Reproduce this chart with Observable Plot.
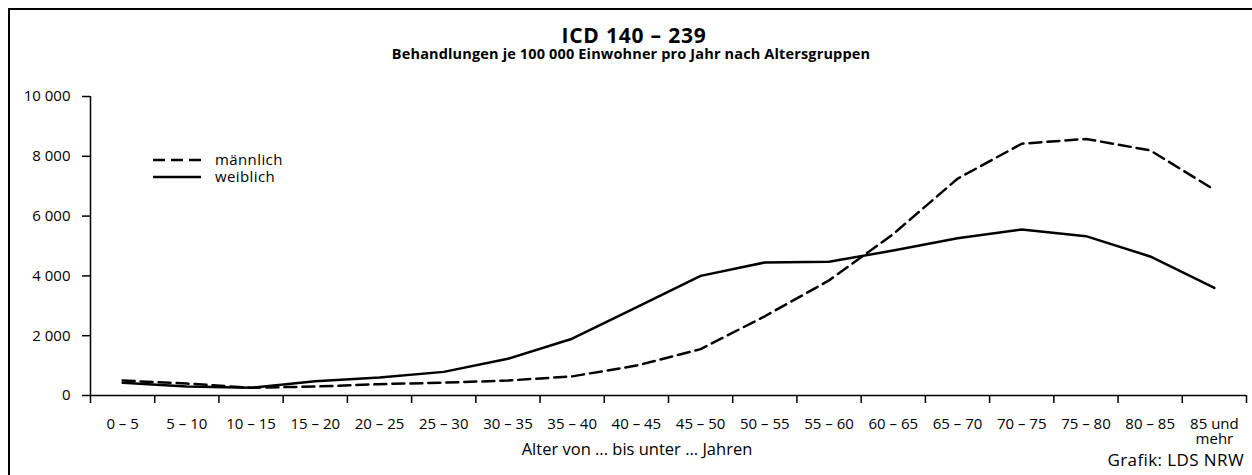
<!DOCTYPE html>
<html><head><meta charset="utf-8">
<script src="https://cdn.jsdelivr.net/npm/d3@7"></script>
<script src="https://cdn.jsdelivr.net/npm/@observablehq/plot@0.6"></script>
<style>
body{margin:0;background:#fff;font-family:"Open Sans",sans-serif;}
#wrap{position:relative;width:1252px;height:475px;overflow:hidden;background:#fff;}
#frame{position:absolute;left:8px;top:8px;width:1300px;height:500px;border-left:2px solid #000;border-top:2px solid #000;}
#chart{position:absolute;left:0;top:0;}
#overlay{position:absolute;left:0;top:0;}
</style></head><body>
<div id="wrap"><div id="frame"></div><div id="chart"></div>
<svg id="overlay" width="1252" height="475" font-family="Open Sans" fill="#000">
  <text x="634" y="43" text-anchor="middle" font-size="21" font-weight="bold" letter-spacing="0.8">ICD 140 – 239</text>
  <text x="631" y="59" text-anchor="middle" font-size="14.5" font-weight="bold" letter-spacing="0.15">Behandlungen je 100 000 Einwohner pro Jahr nach Altersgruppen</text>
  <line x1="153" x2="201" y1="160" y2="160" stroke="#000" stroke-width="2.5" stroke-dasharray="12,6"/>
  <line x1="153" x2="201" y1="177" y2="177" stroke="#000" stroke-width="2.5"/>
  <text x="215" y="165" font-size="15" letter-spacing="0.4">männlich</text>
  <text x="215" y="182" font-size="15" letter-spacing="0.4">weiblich</text>
  <text x="637" y="455" text-anchor="middle" font-size="16.5">Alter von ... bis unter ... Jahren</text>
  <text x="1244" y="466" text-anchor="end" font-size="17" letter-spacing="0.4">Grafik: LDS NRW</text>
</svg>
</div>
<script>
const ageGroups = ["0 – 5","5 – 10","10 – 15","15 – 20","20 – 25","25 – 30","30 – 35","35 – 40","40 – 45","45 – 50","50 – 55","55 – 60","60 – 65","65 – 70","70 – 75","75 – 80","80 – 85","85 und\nmehr"];
const maennlich = [500, 400, 260, 300, 380, 430, 500, 640, 1000, 1550, 2650, 3850, 5400, 7250, 8420, 8580, 8200, 6880];
const weiblich = [430, 300, 260, 480, 600, 790, 1230, 1900, 2950, 4000, 4450, 4470, 4850, 5260, 5550, 5330, 4650, 3600];
const yTicks = [0, 2000, 4000, 6000, 8000, 10000];

const male = ageGroups.map((g, i) => ({pos: i + 0.5, v: maennlich[i]}));
const female = ageGroups.map((g, i) => ({pos: i + 0.5, v: weiblich[i]}));

const chart = Plot.plot({
  width: 1252, height: 475,
  marginLeft: 90, marginRight: 6, marginTop: 96, marginBottom: 80,
  style: {fontFamily: "Open Sans", fontSize: "15px", color: "#000", background: "transparent", overflow: "visible"},
  x: {type: "linear", domain: [0, ageGroups.length]},
  y: {domain: [0, 10000]},
  marks: [
    Plot.axisY({ticks: yTicks, tickSize: 8, tickPadding: 12, strokeWidth: 1.5, label: null,
      tickFormat: d => d3.format(",")(d).replace(/,/g, " ")}),
    Plot.axisX({ticks: d3.range(ageGroups.length + 1), tickSize: 8, strokeWidth: 1.5, tickFormat: () => "", label: null}),
    Plot.axisX({ticks: d3.range(ageGroups.length).map(i => i + 0.5), tickSize: 0, tickPadding: 22, label: null,
      lineHeight: 1.05, tickFormat: t => ageGroups[Math.floor(t)]}),
    Plot.ruleX([0], {strokeWidth: 1.5}),
    Plot.ruleY([0], {strokeWidth: 1.5}),
    Plot.line(female, {x: "pos", y: "v", stroke: "#000", strokeWidth: 2.5}),
    Plot.line(male, {x: "pos", y: "v", stroke: "#000", strokeWidth: 2.5, strokeDasharray: "12,6"})
  ]
});
document.getElementById("chart").appendChild(chart);
</script>
</body></html>
